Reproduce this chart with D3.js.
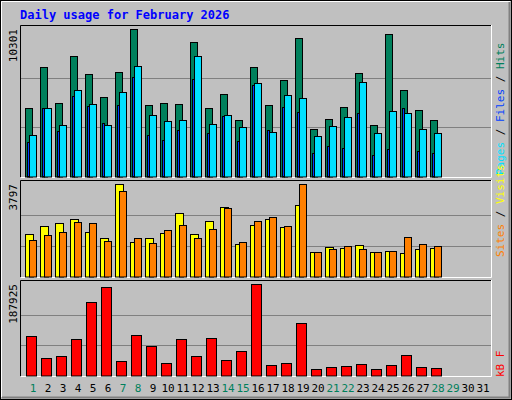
<!DOCTYPE html>
<html><head><meta charset="utf-8">
<script src="https://cdn.jsdelivr.net/npm/d3@7"></script>
<style>body{margin:0;background:#fff}svg text{font-family:"DejaVu Sans Mono",monospace}</style>
</head><body>
<script>
// values, day 1..28
const days = d3.range(1, 32)
const weekend = [1, 7, 8, 14, 15, 21, 22, 28, 29]
const hits  = [4778,7644,5127,8413,7155,5547,7294,10301,4987,5127,5057,9392,4778,5756,3939,7644,4987,6735,9672,3309,4008,4847,7225,3589,9951,6036,4638,3939]
const files = [2890,4778,3589,6036,5057,3589,5896,7714,4288,3869,3939,8413,3659,4288,3449,6525,3100,5686,5477,2820,3519,4148,6595,3030,4568,4428,3309,3030]
const pages = [2400,4778,3169,5617,4917,3729,4987,6945,2890,2540,3239,6805,3030,4218,2470,6386,3239,4847,4498,1631,2121,1981,4428,1492,1911,4778,1771,1631]
const visits = [1741,2070,2193,2371,1823,1576,3797,1412,1576,1782,2604,1741,2276,2851,1330,2111,2358,2029,2933,1001,1206,1165,1289,1001,1042,960,1124,1165]
const sites  = [1494,1700,1823,2234,2193,1453,3509,1576,1371,1905,2111,1576,1947,2810,1412,2276,2440,2070,3797,1001,1124,1247,1124,1001,1042,1618,1330,1247]
const kbytes = [80931,35665,39780,74759,150889,181753,29492,82989,60356,25377,74759,39780,76816,31550,50068,187925,21262,25377,107680,13031,17147,19204,23319,13031,21262,41837,17147,15089]

const w = 512, h = 400
const svg = d3.select("body").append("svg").attr("width", w).attr("height", h)

// outer frame
svg.append("rect").attr("x", 0.5).attr("y", 0.5).attr("width", w - 1).attr("height", h - 1).attr("fill", "#c0c0c0").attr("stroke", "#000")
svg.append("path").attr("d", "M2,397.5H509.5V2").attr("fill", "none").attr("stroke", "#808080").attr("stroke-width", 2)
svg.append("path").attr("d", "M1.5,397V1.5H510").attr("fill", "none").attr("stroke", "#fff")

svg.append("text").attr("x", 20).attr("y", 19).attr("fill", "#0000ff").attr("font-weight", "bold").attr("font-size", 12).text("Daily usage for February 2026")

const x = d3.scaleLinear().domain([1, 32]).range([25, 25 + 15 * 31])

function panel(top, bottom, max, label) {
  svg.append("path").attr("d", `M20.5,${bottom}V${top + 0.5}H491`).attr("fill", "none").attr("stroke", "#000")
  svg.append("path").attr("d", `M21,${bottom + 0.5}H491.5V${top}`).attr("fill", "none").attr("stroke", "#fff")
  const y = d3.scaleLinear().domain([0, max]).range([bottom - 0.5, top + 4])
  ;[1 / 3, 2 / 3].forEach(f => {
    const gy = Math.round(y(max * f)) + 0.5
    svg.append("line").attr("x1", 21).attr("x2", 491).attr("y1", gy).attr("y2", gy).attr("stroke", "#808080")
  })
  svg.append("text").attr("transform", `translate(17,${top + 4}) rotate(-90)`).attr("text-anchor", "end")
    .attr("font-size", 11).attr("fill", "#000").text(label)
  return y
}

function bars(data, y, dx, bw, color) {
  svg.append("g").selectAll("rect").data(data).enter().append("rect")
    .attr("x", (d, i) => x(i + 1) + dx + 0.5)
    .attr("y", d => Math.round(y(d)) + 0.5)
    .attr("width", bw)
    .attr("height", d => y(0) - Math.round(y(d)))
    .attr("fill", color).attr("stroke", "#000")
}

const y1 = panel(25, 177, 10301, "10301")
bars(hits, y1, 0, 7, "#00805c")
bars(pages, y1, 2, 2, "#0040ff")
bars(files, y1, 4, 7, "#00e0ff")

const y2 = panel(180, 277, 3797, "3797")
bars(visits, y2, 0, 8, "#ffff00")
bars(sites, y2, 4, 7, "#ff8000")

const y3 = panel(280, 376, 187925, "187925")
bars(kbytes, y3, 1, 10, "#ff0000")

svg.append("g").selectAll("text").data(days).enter().append("text")
  .attr("x", d => x(d) + 8).attr("y", 392).attr("text-anchor", "middle").attr("font-size", 11)
  .attr("fill", d => weekend.includes(d) ? "#00805c" : "#000").text(d => d)

function sideLabel(y0, parts) {
  const t = svg.append("text").attr("transform", `translate(504,${y0}) rotate(-90)`).attr("font-size", 11)
  parts.forEach(p => t.append("tspan").attr("fill", p[1]).text(p[0]))
}
sideLabel(175, [["Pages", "#00e0ff"], [" / ", "#000"], ["Files", "#0040ff"], [" / ", "#000"], ["Hits", "#00805c"]])
sideLabel(257, [["Sites", "#ff8000"], [" / ", "#000"], ["Visits", "#ffff00"]])
sideLabel(377, [["kB F", "#ff0000"]])
</script>
</body></html>
